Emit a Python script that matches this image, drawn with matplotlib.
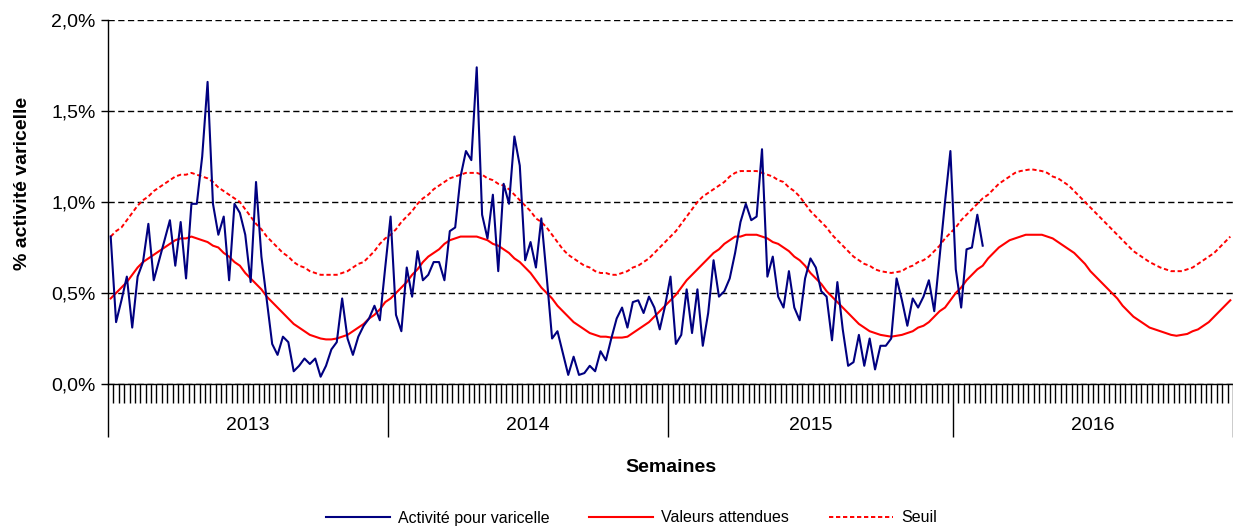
import matplotlib
matplotlib.use("Agg")
import matplotlib.pyplot as plt
import matplotlib.ticker as ticker
import matplotlib.transforms as mtransforms
from matplotlib.lines import Line2D

plt.rcParams['font.family'] = ['Liberation Sans', 'DejaVu Sans']

# weekly values (% of activity), week 1 of 2013 onwards
activite = [
    0.81, 0.34, 0.46, 0.59, 0.31, 0.59, 0.67, 0.88, 0.57, 0.68,
    0.79, 0.90, 0.65, 0.89, 0.58, 0.99, 0.99, 1.25, 1.66, 0.99,
    0.82, 0.92, 0.57, 0.99, 0.94, 0.82, 0.56, 1.11, 0.70, 0.46,
    0.22, 0.16, 0.26, 0.23, 0.07, 0.10, 0.14, 0.11, 0.14, 0.04,
    0.10, 0.19, 0.23, 0.47, 0.25, 0.16, 0.26, 0.32, 0.36, 0.43,
    0.35, 0.64, 0.92, 0.38, 0.29, 0.64, 0.48, 0.73, 0.57, 0.60,
    0.67, 0.67, 0.57, 0.84, 0.86, 1.14, 1.28, 1.23, 1.74, 0.93,
    0.80, 1.04, 0.62, 1.10, 0.99, 1.36, 1.20, 0.68, 0.78, 0.64,
    0.91, 0.59, 0.25, 0.29, 0.17, 0.05, 0.15, 0.05, 0.06, 0.10,
    0.07, 0.18, 0.13, 0.25, 0.36, 0.42, 0.31, 0.45, 0.46, 0.39,
    0.48, 0.42, 0.30, 0.43, 0.59, 0.22, 0.27, 0.52, 0.28, 0.52,
    0.21, 0.39, 0.68, 0.48, 0.51, 0.58, 0.72, 0.89, 0.99, 0.90,
    0.92, 1.29, 0.59, 0.70, 0.48, 0.42, 0.62, 0.42, 0.35, 0.58,
    0.69, 0.64, 0.51, 0.48, 0.24, 0.56, 0.30, 0.10, 0.12, 0.27,
    0.10, 0.25, 0.08, 0.21, 0.21, 0.25, 0.58, 0.46, 0.32, 0.47,
    0.42, 0.48, 0.57, 0.40, 0.70, 1.00, 1.28, 0.63, 0.42, 0.74,
    0.75, 0.93, 0.76,
]

attendues = [
    0.47, 0.50, 0.53, 0.56, 0.60, 0.64, 0.67, 0.69, 0.71, 0.73,
    0.75, 0.77, 0.79, 0.80, 0.80, 0.81, 0.80, 0.79, 0.78, 0.76,
    0.75, 0.72, 0.70, 0.67, 0.65, 0.61, 0.58, 0.55, 0.52, 0.48,
    0.45, 0.42, 0.39, 0.36, 0.33, 0.31, 0.29, 0.27, 0.26, 0.25,
    0.245, 0.245, 0.25, 0.26, 0.27, 0.29, 0.31, 0.33, 0.36, 0.38,
    0.41, 0.45, 0.47, 0.50, 0.53, 0.56, 0.60, 0.63, 0.67, 0.70,
    0.72, 0.74, 0.77, 0.79, 0.80, 0.81, 0.81, 0.81, 0.81, 0.80,
    0.79, 0.77, 0.76, 0.74, 0.72, 0.69, 0.67, 0.64, 0.61, 0.57,
    0.53, 0.50, 0.47, 0.43, 0.40, 0.37, 0.34, 0.32, 0.30, 0.28,
    0.27, 0.26, 0.26, 0.255, 0.255, 0.255, 0.26, 0.28, 0.30, 0.32,
    0.34, 0.37, 0.40, 0.43, 0.46, 0.49, 0.53, 0.57, 0.60, 0.63,
    0.66, 0.69, 0.72, 0.74, 0.77, 0.79, 0.81, 0.81, 0.82, 0.82,
    0.82, 0.81, 0.80, 0.78, 0.77, 0.75, 0.73, 0.70, 0.68, 0.65,
    0.61, 0.58, 0.55, 0.51, 0.48, 0.45, 0.42, 0.39, 0.36, 0.33,
    0.31, 0.29, 0.28, 0.27, 0.265, 0.26, 0.265, 0.27, 0.28, 0.29,
    0.31, 0.32, 0.34, 0.37, 0.40, 0.42, 0.46, 0.50, 0.53, 0.57,
    0.60, 0.63, 0.65, 0.69, 0.72, 0.75, 0.77, 0.79, 0.80, 0.81,
    0.82, 0.82, 0.82, 0.82, 0.81, 0.80, 0.78, 0.76, 0.74, 0.72,
    0.69, 0.66, 0.62, 0.59, 0.56, 0.53, 0.50, 0.47, 0.43, 0.40,
    0.37, 0.35, 0.33, 0.31, 0.30, 0.29, 0.28, 0.27, 0.265, 0.27,
    0.275, 0.29, 0.30, 0.32, 0.34, 0.37, 0.40, 0.43, 0.46,
]

seuil = [
    0.81, 0.84, 0.86, 0.90, 0.94, 0.98, 1.01, 1.03, 1.06, 1.08,
    1.10, 1.12, 1.14, 1.15, 1.15, 1.16, 1.15, 1.14, 1.13, 1.11,
    1.08, 1.06, 1.04, 1.02, 1.00, 0.96, 0.92, 0.88, 0.85, 0.81,
    0.78, 0.75, 0.72, 0.70, 0.67, 0.65, 0.64, 0.62, 0.61, 0.60,
    0.60, 0.60, 0.60, 0.61, 0.62, 0.64, 0.66, 0.67, 0.70, 0.73,
    0.77, 0.80, 0.82, 0.85, 0.89, 0.92, 0.95, 0.99, 1.02, 1.04,
    1.07, 1.09, 1.11, 1.13, 1.14, 1.15, 1.16, 1.16, 1.16, 1.15,
    1.13, 1.12, 1.10, 1.09, 1.07, 1.04, 1.01, 0.98, 0.95, 0.91,
    0.89, 0.86, 0.82, 0.78, 0.74, 0.71, 0.69, 0.67, 0.65, 0.64,
    0.62, 0.61, 0.61, 0.60, 0.60, 0.61, 0.62, 0.64, 0.65, 0.67,
    0.69, 0.72, 0.75, 0.78, 0.81, 0.84, 0.88, 0.92, 0.96, 1.00,
    1.03, 1.05, 1.07, 1.09, 1.11, 1.14, 1.16, 1.17, 1.17, 1.17,
    1.17, 1.16, 1.15, 1.14, 1.12, 1.11, 1.08, 1.06, 1.03, 0.99,
    0.95, 0.92, 0.89, 0.86, 0.82, 0.79, 0.76, 0.73, 0.70, 0.68,
    0.66, 0.65, 0.63, 0.62, 0.615, 0.61, 0.615, 0.62, 0.64, 0.65,
    0.67, 0.68, 0.70, 0.73, 0.76, 0.80, 0.83, 0.86, 0.90, 0.93,
    0.96, 0.99, 1.02, 1.04, 1.07, 1.10, 1.12, 1.14, 1.16, 1.17,
    1.175, 1.18, 1.175, 1.17, 1.16, 1.14, 1.13, 1.11, 1.09, 1.06,
    1.03, 1.00, 0.97, 0.94, 0.91, 0.88, 0.85, 0.82, 0.79, 0.76,
    0.73, 0.71, 0.69, 0.67, 0.655, 0.64, 0.63, 0.62, 0.62, 0.62,
    0.63, 0.64, 0.66, 0.68, 0.70, 0.72, 0.75, 0.78, 0.81,
]

annees = ['2013', '2014', '2015', '2016']
semaines_par_annee = [52, 52, 53, 52]

W, H = 1233, 527
fig = plt.figure(figsize=(W / 100, H / 100), dpi=100)
ax = fig.add_axes([108 / W, 1 - 384 / H, 1125 / W, 364 / H])

n = len(attendues)
ax.plot(range(len(activite)), activite, color='#000080', lw=1.5, zorder=4)
ax.plot(range(n), attendues, color='#ff0000', lw=1.5, zorder=3)
ax.plot(range(n), seuil, color='#ff0000', lw=1.4, ls=(0, (2.2, 1.4)), zorder=3)

ax.set_xlim(-0.5, n - 0.5)
ax.set_ylim(0, 2.0)

# y axis
ax.yaxis.set_major_locator(ticker.MultipleLocator(0.5))
ax.yaxis.set_major_formatter(ticker.FuncFormatter(lambda v, p: ('%.1f%%' % v).replace('.', ',')))
ax.yaxis.grid(True, color='black', ls=(0, (4.5, 2.5)), lw=1.0)
ax.set_axisbelow(True)
ax.tick_params(axis='y', direction='out', length=5, width=1, labelsize=14, pad=4)
ax.set_ylabel('% activité varicelle', fontsize=14, fontweight='bold')
ax.yaxis.set_label_coords(-0.068, 0.551)

# x axis: week ticks + year separators
bornes = [-0.5]
for s in semaines_par_annee:
    bornes.append(bornes[-1] + s)
ax.set_xticks(bornes)
ax.set_xticklabels([])
ax.set_xticks([k - 0.5 for k in range(n + 1)], minor=True)
ax.tick_params(axis='x', which='major', direction='out', length=38, width=1)
ax.tick_params(axis='x', which='minor', direction='out', length=14, width=1)

trans = mtransforms.blended_transform_factory(ax.transData, ax.transAxes)
for i, a in enumerate(annees):
    ax.text((bornes[i] + bornes[i + 1]) / 2, -0.113, a, transform=trans,
            ha='center', va='center', fontsize=14)

ax.set_xlabel('Semaines', fontsize=14, fontweight='bold')
ax.xaxis.set_label_coords(0.5, -0.207)

for s in ['top', 'right']:
    ax.spines[s].set_visible(False)
ax.spines['left'].set_linewidth(1)
ax.spines['bottom'].set_linewidth(1)

handles = [
    Line2D([], [], color='#000080', lw=1.5),
    Line2D([], [], color='#ff0000', lw=1.5),
    Line2D([], [], color='#ff0000', lw=1.4, ls=(0, (2.2, 1.4))),
]
fig.legend(handles, ['Activité pour varicelle', 'Valeurs attendues', 'Seuil'],
           loc='center', bbox_to_anchor=(0.512, 1 - 518 / H), ncol=3, frameon=False,
           fontsize=11.5, handlelength=4.0, handletextpad=0.5, columnspacing=2.5)

fig.savefig('out.png', dpi=100)
